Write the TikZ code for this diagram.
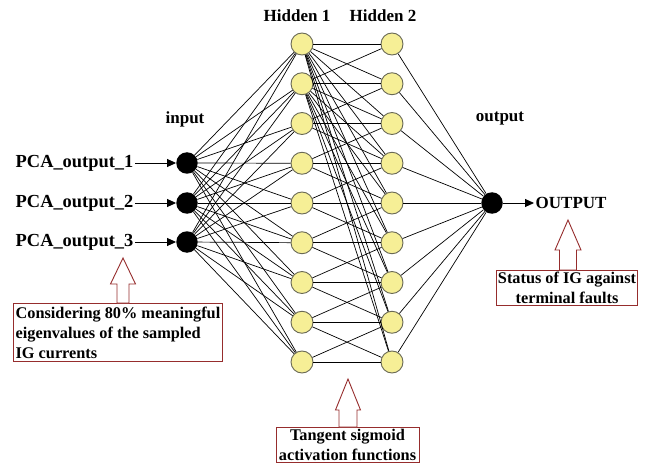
\documentclass[tikz,border=0pt]{standalone}
\usepackage{fontspec}
\setmainfont{Liberation Serif}
\usetikzlibrary{arrows.meta,calc,positioning}
\definecolor{cellfill}{RGB}{246,239,150}
\definecolor{cellline}{RGB}{105,105,85}
\definecolor{notered}{RGB}{150,45,45}
\tikzset{
  neuron/.style   = {circle, draw=cellline, fill=cellfill, minimum size=22pt,
                     inner sep=0pt, line width=0.9pt},
  blackdot/.style = {circle, fill=black, minimum size=21.5pt, inner sep=0pt},
  wire/.style     = {line width=0.7pt, black},
  vec/.style      = {-{Triangle[length=9pt,width=8pt]}, line width=0.9pt},
  lbl/.style      = {font=\fontsize{17}{20}\selectfont\bfseries, inner sep=1.5pt},
  note/.style     = {draw=notered, line width=0.9pt, fill=white, inner sep=1.5pt,
                     font=\fontsize{16.3}{20}\selectfont\bfseries},
  hintarrow/.style= {draw=notered, line width=0.9pt, fill=white},
}

\begin{document}
\begin{tikzpicture}[x=1pt,y=-1pt]
  \useasboundingbox (0,0) rectangle (651,468);
  % layers
  \foreach \i/\y in {1/163,2/203,3/242}
    \node[blackdot] (in\i) at (187,\y) {};
  \foreach \i in {1,...,9}{
    \node[neuron] (ha\i) at (302,{44+(\i-1)*39.75}) {};
    \node[neuron] (hb\i) at (392,{44+(\i-1)*39.75}) {};
  }
  \node[blackdot] (out) at (492,203) {};

  % weights
  \foreach \i in {1,2,3}
    \foreach \j in {1,...,9}
      \draw[wire] (in\i) -- (ha\j);
  \foreach \i in {1,...,9}
    \foreach \j in {1,...,9}{
      \pgfmathtruncatemacro\keep{(abs(\i-\j)<2)||(\i<3)}
      \ifnum\keep=1 \draw[wire] (ha\i) -- (hb\j); \fi
    }
  \foreach \j in {1,...,9}
    \draw[wire] (hb\j) -- (out);

  % titles
  \node[lbl] (t1) at (297,16) {Hidden 1};
  \node[lbl] (t2) at (383,16) {Hidden 2};
  \node[lbl] (tin) at (185,119) {input};
  \node[lbl] (tout) at (500,119) {output};

  % inputs and output
  \foreach \i/\y in {1/163,2/203,3/242}{
    \node[lbl, font=\fontsize{18.4}{20}\selectfont\bfseries, anchor=east]
      (pca\i) at (135,\y) {PCA\_output\_\i};
    \draw[vec] (pca\i) -- (in\i);
  }
  \node[lbl, anchor=west] (res) at (534,203) {OUTPUT};
  \draw[vec] (out) -- (res);

  % remarks
  \node[note, align=left, anchor=north west, minimum width=209pt,
        minimum height=58pt] (n1) at (13,303)
    {Considering 80\% meaningful\\eigenvalues of the sampled\\IG currents};
  \node[note, align=center, anchor=north, minimum width=143pt] (n2) at (347.5,427)
    {Tangent sigmoid\\activation functions};
  \node[note, align=center, anchor=north, minimum width=140pt] (n3) at (567,270)
    {Status of IG against\\terminal faults};
  \foreach \x/\tip/\neck/\foot/\hw/\sw in
      {123/258/284/303/12.5/6, 348/379/410/427/12.5/9, 568/220/250/270/13/8.5}
    \draw[hintarrow] (\x,\tip) -- (\x+\hw,\neck) -- (\x+\sw,\neck) -- (\x+\sw,\foot)
      -- (\x-\sw,\foot) -- (\x-\sw,\neck) -- (\x-\hw,\neck) -- cycle;
\end{tikzpicture}
\end{document}
